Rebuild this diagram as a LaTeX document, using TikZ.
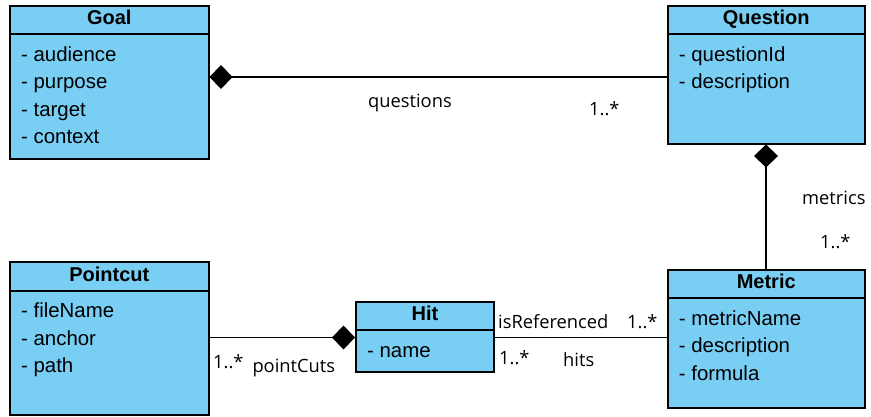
\documentclass[tikz,border=0pt]{standalone}
\usepackage{fontspec}
\setmainfont{Liberation Sans}
\newfontfamily\labfont{Open Sans}
\usetikzlibrary{arrows.meta}
\definecolor{boxfill}{RGB}{121,206,244}
\tikzset{
  classbox/.style={draw=black, fill=boxfill, line width=1.8pt, anchor=north west, inner sep=0pt},
  ctitle/.style={anchor=base, inner sep=0pt, font=\fontsize{20}{24}\selectfont\bfseries},
  attr/.style={anchor=base west, inner sep=0pt, font=\fontsize{20.4}{24}\selectfont},
  lbl/.style={anchor=base west, inner sep=0pt, font=\labfont\fontsize{18.3}{22}\selectfont},
  assoc/.style={line width=1.6pt},
  comp/.style={line width=1.6pt, -{Diamond[length=23pt,width=24pt,line width=0pt]}},
  sepline/.style={line width=1.8pt},
}
\begin{document}
\begin{tikzpicture}[x=1pt,y=1pt]
\useasboundingbox (0,0) rectangle (871,-416);
% Goal
\node[classbox, minimum width=198.7pt, minimum height=153.3pt] (goal) at (9,-4.7) {};
\draw[sepline] ([yshift=-29.5pt]goal.north west) -- ([yshift=-29.5pt]goal.north east);
\node[ctitle] (goalt) at ([yshift=-19.5pt]goal.north) {Goal};
\node[attr] (ga1) at (21,-61) {- audience};
\node[attr] (ga2) at (21,-88.6) {- purpose};
\node[attr] (ga3) at (21,-116.2) {- target};
\node[attr] (ga4) at (21,-143.8) {- context};
% Question
\node[classbox, minimum width=197.3pt, minimum height=138pt] (question) at (666.7,-4.7) {};
\draw[sepline] ([yshift=-29.5pt]question.north west) -- ([yshift=-29.5pt]question.north east);
\node[ctitle] (questiont) at ([yshift=-19.5pt]question.north) {Question};
\node[attr] (qa1) at (678.7,-61) {- questionId};
\node[attr] (qa2) at (678.7,-88.6) {- description};
% Metric
\node[classbox, minimum width=197.3pt, minimum height=138pt] (metric) at (666.7,-268.7) {};
\draw[sepline] ([yshift=-29.5pt]metric.north west) -- ([yshift=-29.5pt]metric.north east);
\node[ctitle] (metrict) at ([yshift=-19.5pt]metric.north) {Metric};
\node[attr] (ma1) at (678.7,-325.2) {- metricName};
\node[attr] (ma2) at (678.7,-352.8) {- description};
\node[attr] (ma3) at (678.7,-380.4) {- formula};
% Pointcut
\node[classbox, minimum width=198.7pt, minimum height=153pt] (pointcut) at (9,-261) {};
\draw[sepline] ([yshift=-30pt]pointcut.north west) -- ([yshift=-30pt]pointcut.north east);
\node[ctitle] (pointcutt) at ([yshift=-20pt]pointcut.north) {Pointcut};
\node[attr] (pa1) at (21,-317.5) {- fileName};
\node[attr] (pa2) at (21,-345.1) {- anchor};
\node[attr] (pa3) at (21,-372.7) {- path};
% Hit
\node[classbox, minimum width=138pt, minimum height=70.3pt] (hit) at (355,-300.7) {};
\draw[sepline] ([yshift=-29.5pt]hit.north west) -- ([yshift=-29.5pt]hit.north east);
\node[ctitle] (hitt) at ([yshift=-19.5pt]hit.north) {Hit};
\node[attr] (ha1) at (367,-357) {- name};
% connectors
\coordinate (ygq) at (0,-77);
\coordinate (xqm) at (766,0);
\coordinate (yhm) at (0,-337.5);
\draw[comp] (question.west |- ygq) -- (goal.east |- ygq);
\draw[comp] (metric.north -| xqm) -- (question.south -| xqm);
\draw[assoc] (hit.east |- yhm) -- (metric.west |- yhm);
\draw[comp] (pointcut.east |- yhm) -- (hit.west |- yhm);
% labels
\node[lbl] (l1) at (368,-107) {questions};
\node[lbl] (l2) at (589,-115) {1..*};
\node[lbl] (l3) at (802,-204) {metrics};
\node[lbl] (l4) at (820,-248.3) {1..*};
\node[lbl] (l5) at (498,-328.3) {isReferenced};
\node[lbl] (l6) at (627,-328.3) {1..*};
\node[lbl] (l7) at (499,-364.3) {1..*};
\node[lbl] (l8) at (563,-366) {hits};
\node[lbl] (l9) at (213,-368.3) {1..*};
\node[lbl] (l10) at (252.3,-372.7) {pointCuts};
\end{tikzpicture}
\end{document}
